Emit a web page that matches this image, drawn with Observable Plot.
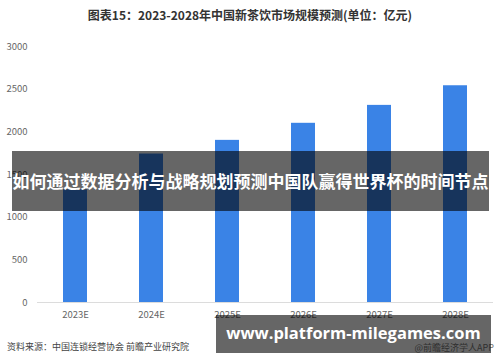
<!DOCTYPE html>
<html>
<head>
<meta charset="utf-8">
<script src="https://cdn.jsdelivr.net/npm/d3@7"></script>
<script src="https://cdn.jsdelivr.net/npm/@observablehq/plot@0.6"></script>
<style>
  html, body { margin: 0; padding: 0; background: #fff; }
  #wrap { position: relative; width: 500px; height: 362px; overflow: hidden; font-family: "Noto Sans CJK SC", "Noto Sans", sans-serif; }
  #title { position: absolute; left: 0; width: 500px; top: 6px; text-align: center; font-size: 12px; font-weight: bold; color: #333; }
  #source { position: absolute; left: 7px; top: 340px; font-size: 9px; color: #444; }
  #credit { position: absolute; right: 6px; top: 341px; font-size: 9px; color: #777; }
  #banner1 { position: absolute; left: 12px; top: 151px; width: 477px; height: 60px; background: rgba(0,0,0,0.6); color: #fff; font-weight: bold; font-size: 17px; line-height: 60px; text-align: center; white-space: nowrap; }
  #banner2 { position: absolute; left: 216px; top: 315px; width: 275px; height: 38px; background: rgba(0,0,0,0.6); color: #fff; font-weight: bold; font-size: 16.5px; line-height: 36px; text-align: center; font-family: "Open Sans", "DejaVu Sans", sans-serif; white-space: nowrap; }
  svg { position: absolute; left: 0; top: 0; }
</style>
</head>
<body>
<div id="wrap"></div>
<script>
const title = "图表15：2023-2028年中国新茶饮市场规模预测(单位：亿元)";
const years = ["2023E", "2024E", "2025E", "2026E", "2027E", "2028E"];
const values = [1320, 1740, 1900, 2100, 2310, 2540];
const yTicks = [0, 500, 1000, 1500, 2000, 2500, 3000];
const sourceText = "资料来源：中国连锁经营协会 前瞻产业研究院";
const creditText = "@前瞻经济学人APP";
const bannerText = "如何通过数据分析与战略规划预测中国队赢得世界杯的时间节点";
const urlText = "www.platform-milegames.com";

const data = years.map((y, i) => ({year: y, value: values[i]}));

const chart = Plot.plot({
  width: 500,
  height: 362,
  marginTop: 46,
  marginBottom: 60,
  marginLeft: 37,
  marginRight: 7,
  style: {fontFamily: "'Noto Sans CJK SC', 'Noto Sans', sans-serif", fontSize: "9.5px", color: "#666", background: "transparent"},
  x: {domain: years, paddingInner: 0.69, paddingOuter: 0.345, label: null, tickSize: 0, tickPadding: 9},
  y: {domain: [0, 3000], ticks: yTicks, label: null, tickSize: 0, tickPadding: 10, tickFormat: d => String(d)},
  marks: [
    Plot.barY(data, {x: "year", y: "value", fill: "#3a83e6"}),
    Plot.ruleY([0], {stroke: "#dcdcdc"})
  ]
});

const wrap = document.getElementById("wrap");
wrap.appendChild(chart);
const add = (id, text) => { const d = document.createElement("div"); d.id = id; d.textContent = text; wrap.appendChild(d); };
add("title", title);
add("source", sourceText);
add("credit", creditText);
add("banner1", bannerText);
add("banner2", urlText);
</script>
</body>
</html>
